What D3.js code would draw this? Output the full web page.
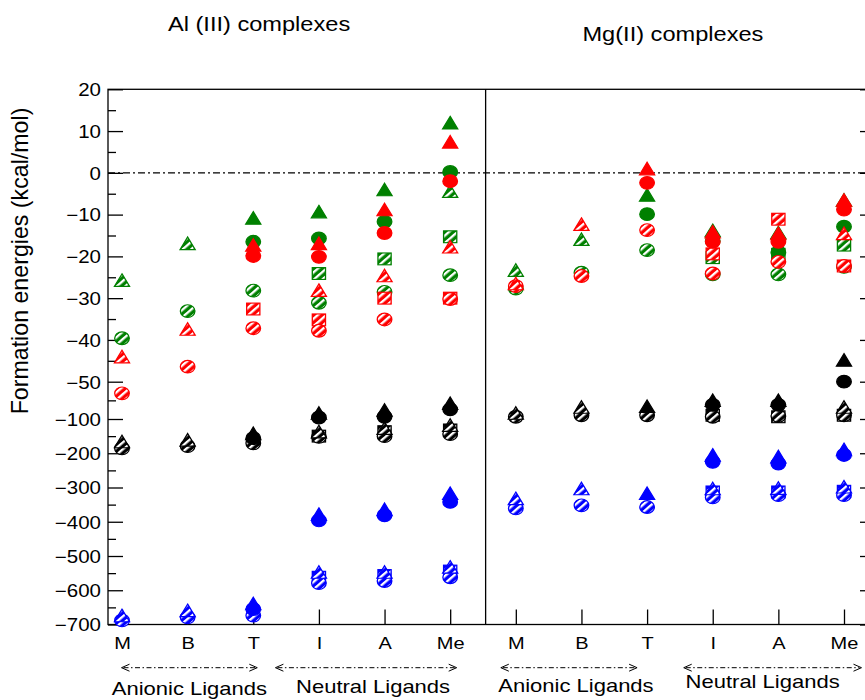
<!DOCTYPE html>
<html><head><meta charset="utf-8">
<script src="https://cdn.jsdelivr.net/npm/d3@7"></script>
<style>
body{margin:0;background:#fff}
svg{display:block}
text{font-family:"Liberation Sans",Arial,Helvetica,sans-serif;fill:#000}
</style>
</head><body>
<svg id="chart" width="865" height="700"></svg>
<script>
// ---------------- DATA ----------------
const categories = ["M","B","T","I","A","Me"];
const metals = ["Al","Mg"];
const panelTitles = ["Al (III) complexes","Mg(II) complexes"];
const yTickValues = [20,10,0,-10,-20,-30,-40,-50,-100,-200,-300,-400,-500,-600,-700];
const ligandGroups = ["Anionic Ligands","Neutral Ligands"];
const yLabel = "Formation energies (kcal/mol)";

// each array: Al M,B,T,I,A,Me then Mg M,B,T,I,A,Me
const greenSqHatch   = [null,null,null,-24.1,-20.6,-15.3,  null,null,null,-20.3,-19.5,-17.3];
const greenCircHatch = [-39.6,-33.1,-28.2,-31.1,-28.5,-24.5, -27.7,-23.9,-18.5,-24.3,-24.3,-22.5];
const greenTriHatch  = [-25.7,-16.9,null,null,null,-4.4,   -23.3,-15.9,null,null,null,null];
const greenCircFill  = [null,null,-16.5,-15.7,-11.7,0.2,   null,null,-9.9,-16.3,-19,-12.9];
const greenTriFill   = [null,null,-10.8,-9.3,-4.0,12.0,    null,null,-5.3,-13.8,-14.3,-6.5];

const redSqHatch     = [null,null,-32.6,-35.2,-30.0,-30.0, null,null,null,-19.4,-11.1,-22.3];
const redCircHatch   = [-65.6,-46.4,-37.2,-37.8,-35.1,-30.2, -27.1,-24.7,-13.7,-24.1,-21.3,-22.3];
const redTriHatch    = [-44.0,-37.4,null,-28.1,-24.6,-17.7, -26.5,-12.3,null,null,null,-14.5];
const redCircFill    = [null,null,-19.9,-20.1,-14.4,-2.0,  null,null,-2.4,-16.5,-16.5,-8.8];
const redTriFill     = [null,null,-17.3,-16.9,-8.8,7.4,    null,null,1.0,-14.1,-14.5,-6.5];

const blackSqHatch   = [null,null,null,-150,-137,-132,     null,null,null,-95,-97,-95];
const blackCircHatch = [-186,-179,-171,-152,-150,-144,     -97,-95,-95,-97,-96,-95];
const blackTriHatch  = [-166,-161,null,-137,-127,-118,     -92,-84,null,null,null,-84];
const blackCircFill  = [null,null,-156,-98,-97,-87,        null,null,null,-81,-81,-50];
const blackTriFill   = [null,null,-142,-92,-88,-79,        null,null,-83,-75,-75,-44.8];

const blueSqHatch    = [null,null,null,-562,-557,-544,     null,null,null,-313,-313,-311];
const blueCircHatch  = [-688,-679,-674,-579,-573,-562,     -361,-352,-357,-329,-322,-322];
const blueTriHatch   = [-674,-659,null,-547,-547,-532,     -332,-303,null,-303,-302,-298];
const blueCircFill   = [null,null,-655,-396,-381,-342,     null,null,null,-225,-230,-205];
const blueTriFill    = [null,null,-639,-378,-364,-317,     null,null,-317,-205,-210,-189];

const colors = {green:"#008000", red:"#ff0000", black:"#000000", blue:"#0000ff"};

const series = [
  {color:"green", shape:"square",   filled:false, values:greenSqHatch},
  {color:"green", shape:"circle",   filled:false, values:greenCircHatch},
  {color:"green", shape:"triangle", filled:false, values:greenTriHatch},
  {color:"green", shape:"circle",   filled:true,  values:greenCircFill},
  {color:"green", shape:"triangle", filled:true,  values:greenTriFill},
  {color:"red",   shape:"square",   filled:false, values:redSqHatch},
  {color:"red",   shape:"circle",   filled:false, values:redCircHatch},
  {color:"red",   shape:"triangle", filled:false, values:redTriHatch},
  {color:"red",   shape:"circle",   filled:true,  values:redCircFill},
  {color:"red",   shape:"triangle", filled:true,  values:redTriFill},
  {color:"black", shape:"square",   filled:false, values:blackSqHatch},
  {color:"black", shape:"circle",   filled:false, values:blackCircHatch},
  {color:"black", shape:"triangle", filled:false, values:blackTriHatch},
  {color:"black", shape:"circle",   filled:true,  values:blackCircFill},
  {color:"black", shape:"triangle", filled:true,  values:blackTriFill},
  {color:"blue",  shape:"square",   filled:false, values:blueSqHatch},
  {color:"blue",  shape:"circle",   filled:false, values:blueCircHatch},
  {color:"blue",  shape:"triangle", filled:false, values:blueTriHatch},
  {color:"blue",  shape:"circle",   filled:true,  values:blueCircFill},
  {color:"blue",  shape:"triangle", filled:true,  values:blueTriFill}
];

// ---------------- LAYOUT ----------------
const pL = 108, pR = 875, pT = 89.3, pB = 624.5;
const SQ = 0.87; // vertical squash of the original picture
const svg = d3.select("#chart");

const keys = [];
metals.forEach(m => categories.forEach(c => keys.push(m + "-" + c)));

const x = d3.scalePoint().domain(keys).range([122, 844]);
const y = d3.scaleLinear().domain([20,-50,-100,-700]).range([pT, 381.7, 419, pB]);

// hatch patterns
const defs = svg.append("defs");
Object.entries(colors).forEach(([k, c]) => {
  const p = defs.append("pattern").attr("id", "h-" + k)
    .attr("patternUnits", "userSpaceOnUse").attr("width", 6).attr("height", 6)
    .attr("patternTransform", "rotate(45)");
  p.append("rect").attr("width", 6).attr("height", 6).attr("fill", c);
  p.append("rect").attr("x", 0).attr("width", 2.5).attr("height", 6).attr("fill", "#fff");
});

// frame
svg.append("rect").attr("x", pL).attr("y", pT).attr("width", pR - pL).attr("height", pB - pT)
  .attr("fill", "none").attr("stroke", "#000").attr("stroke-width", 1.3);

// zero line
svg.append("line").attr("x1", pL).attr("x2", pR).attr("y1", y(0)).attr("y2", y(0))
  .attr("stroke", "#000").attr("stroke-width", 1.1).attr("stroke-dasharray", "7,3,2,3");

// divider
const step = x.step();
const divX = x("Al-Me") + step * 0.54;
svg.append("line").attr("x1", divX).attr("x2", divX).attr("y1", pT).attr("y2", pB)
  .attr("stroke", "#000").attr("stroke-width", 1.3);

function squashText(sel, dx, dy) {
  sel.each(function() {
    const t = d3.select(this);
    t.attr("x", null).attr("y", null).attr("dy", null)
     .attr("transform", `translate(${dx},${dy}) scale(1,${SQ})`);
  });
}

// left axis major
const yAxis = d3.axisLeft(y).tickValues(yTickValues).tickSizeInner(-15).tickSizeOuter(0).tickPadding(7)
  .tickFormat(d3.format("d"));
const gy = svg.append("g").attr("transform", `translate(${pL},0)`).call(yAxis);
gy.select(".domain").remove();
gy.selectAll("line").attr("stroke-width", 1.3);
gy.selectAll("text").style("font-size", "20.5px").attr("text-anchor", "end")
  .call(squashText, -7, 6.3);

// left axis minor
const minorVals = d3.pairs(yTickValues).map(([a, b]) => (a + b) / 2);
const gym = svg.append("g").attr("transform", `translate(${pL},0)`)
  .call(d3.axisLeft(y).tickValues(minorVals).tickSizeInner(-8).tickSizeOuter(0).tickFormat(""));
gym.select(".domain").remove();
gym.selectAll("line").attr("stroke-width", 1.3);

// right axis
const gyr = svg.append("g").attr("transform", `translate(${pR},0)`)
  .call(d3.axisRight(y).tickValues(yTickValues).tickSizeInner(-15).tickSizeOuter(0).tickFormat(""));
gyr.select(".domain").remove();
gyr.selectAll("line").attr("stroke-width", 1.3);

// bottom axis
const gx = svg.append("g").attr("transform", `translate(0,${pB})`)
  .call(d3.axisBottom(x).tickSizeInner(-15).tickSizeOuter(0).tickFormat(d => d.split("-")[1]));
gx.select(".domain").remove();
gx.selectAll("line").attr("stroke-width", 1.3);
gx.selectAll("text").style("font-size", "20px").attr("text-anchor", "middle")
  .call(squashText, 0, 24);

// titles
const titleY = [31, 41];
const titleShift = [-27, -7];
panelTitles.forEach((t, i) => {
  const cx = (x(metals[i] + "-" + categories[0]) + x(metals[i] + "-" + categories[5])) / 2;
  svg.append("text").attr("text-anchor", "middle").style("font-size", "23.6px")
    .attr("transform", `translate(${cx + titleShift[i]},${titleY[i]}) scale(1,${SQ})`).text(t);
});

// y label
svg.append("text").attr("text-anchor", "middle").style("font-size", "23.2px")
  .attr("transform", `translate(28,261) rotate(-90)`).text(yLabel);

// ligand group annotations
const groupSpans = [
  {m:"Al", from:"M", to:"T",  a:[-0.5, 4], ty:694.5, g:0, tdx:0},
  {m:"Al", from:"I", to:"Me", a:[-43.5, 6.5], ty:692.5, g:1, tdx:7},
  {m:"Mg", from:"M", to:"T",  a:[-15, -10], ty:692, g:0, tdx:7},
  {m:"Mg", from:"I", to:"Me", a:[-29, 17.5], ty:687.5, g:1, tdx:-10}
];
const arrowY = 667.7;
groupSpans.forEach(s => {
  const x1 = x(s.m + "-" + s.from) + s.a[0];
  const x2 = x(s.m + "-" + s.to) + s.a[1];
  svg.append("line").attr("x1", x1 + 2).attr("x2", x2 - 2).attr("y1", arrowY).attr("y2", arrowY)
    .attr("stroke", "#000").attr("stroke-width", 1).attr("stroke-dasharray", "5,2.5,1.5,2.5");
  svg.append("path").attr("d", `M${x1 + 8},${arrowY - 3.5} L${x1},${arrowY} L${x1 + 8},${arrowY + 3.5}`)
    .attr("fill", "none").attr("stroke", "#000").attr("stroke-width", 1);
  svg.append("path").attr("d", `M${x2 - 8},${arrowY - 3.5} L${x2},${arrowY} L${x2 - 8},${arrowY + 3.5}`)
    .attr("fill", "none").attr("stroke", "#000").attr("stroke-width", 1);
  const tx = (x1 + x2) / 2 + s.tdx;
  svg.append("text").attr("text-anchor", "middle").style("font-size", "22px")
    .attr("transform", `translate(${tx},${s.ty}) scale(1,${SQ})`).text(ligandGroups[s.g]);
});

// markers
const plot = svg.append("g");
series.forEach(s => {
  const col = colors[s.color];
  const fill = s.filled ? col : `url(#h-${s.color})`;
  const pts = s.values.map((v, i) => ({k: keys[i], v})).filter(d => d.v !== null);
  const g = plot.selectAll(null).data(pts).enter().append("g")
    .attr("transform", d => `translate(${x(d.k)},${y(d.v)}) scale(1,${SQ})`);
  let m;
  if (s.shape === "circle") m = g.append("circle").attr("r", 7.3);
  else if (s.shape === "triangle") m = g.append("path").attr("d", "M0,-7.3L7.6,7.1L-7.6,7.1Z");
  else m = g.append("rect").attr("x", -6.6).attr("y", -6.8).attr("width", 13.2).attr("height", 13.6);
  m.attr("fill", fill).attr("stroke", col).attr("stroke-width", 1.3);
});
</script>
</body></html>
